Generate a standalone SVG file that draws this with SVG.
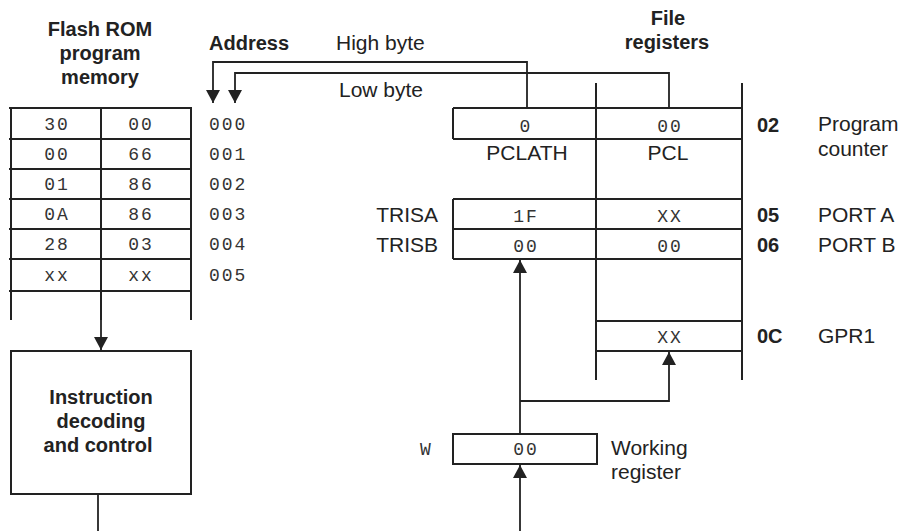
<svg xmlns="http://www.w3.org/2000/svg" width="901" height="531" viewBox="0 0 901 531">
<defs>
<marker id="ah" markerUnits="userSpaceOnUse" markerWidth="14" markerHeight="14" refX="13" refY="7" orient="auto"><path d="M0,0 L13,7 L0,14 z" fill="#222"/></marker>
<style>
.h{font-family:"Liberation Sans",Arial,sans-serif;font-weight:bold;font-size:20px;fill:#222}
.t{font-family:"Liberation Sans",Arial,sans-serif;font-size:21px;fill:#222}
.m{font-family:"Liberation Mono","Courier New",monospace;font-size:18px;letter-spacing:2px;fill:#333}
.mid{text-anchor:middle}
.end{text-anchor:end}
.b{fill:none;stroke:#222;stroke-width:2}
.c{fill:none;stroke:#222;stroke-width:1.8}
</style>
</defs>
<rect width="901" height="531" fill="#fff"/>

<g id="headings">
<text class="h mid" x="100" y="36">Flash ROM</text>
<text class="h mid" x="100" y="60">program</text>
<text class="h mid" x="100" y="84">memory</text>
<text class="h" x="209" y="50">Address</text>
<text class="h mid" x="668" y="25">File</text>
<text class="h mid" x="667" y="49">registers</text>
</g>

<g id="program-memory">
<path class="b" d="M11,108V320 M191,108V320 M101,108V320 M9,108H192 M9,139H192 M9,169H192 M9,199H192 M9,229H192 M9,259H192 M9,291H192"/>
<text class="m mid" x="57" y="130">30</text><text class="m mid" x="141" y="130">00</text><text class="m" x="209" y="130">000</text>
<text class="m mid" x="57" y="160">00</text><text class="m mid" x="141" y="160">66</text><text class="m" x="209" y="160">001</text>
<text class="m mid" x="57" y="190">01</text><text class="m mid" x="141" y="190">86</text><text class="m" x="209" y="190">002</text>
<text class="m mid" x="57" y="220">0A</text><text class="m mid" x="141" y="220">86</text><text class="m" x="209" y="220">003</text>
<text class="m mid" x="57" y="250">28</text><text class="m mid" x="141" y="250">03</text><text class="m" x="209" y="250">004</text>
<text class="m mid" x="57" y="281">xx</text><text class="m mid" x="141" y="281">xx</text><text class="m" x="209" y="281">005</text>
</g>

<g id="instruction-decoding">
<rect class="b" x="11" y="351" width="180" height="143"/>
<text class="h mid" x="101" y="404">Instruction</text>
<text class="h mid" x="101" y="428">decoding</text>
<text class="h mid" x="98" y="452">and control</text>
</g>

<g id="pc">
<path class="b" d="M453,108H742 M453,139H742 M453,108V139"/>
<text class="m mid" x="526" y="132">0</text>
<text class="m mid" x="670" y="132">00</text>
<text class="t mid" x="527" y="160">PCLATH</text>
<text class="t mid" x="668" y="160">PCL</text>
<text class="h" x="757" y="132">02</text>
<text class="t" x="818" y="131">Program</text>
<text class="t" x="818" y="156">counter</text>
</g>

<g id="file-registers">
<path class="b" d="M596,83V380 M742,83V380"/>
</g>

<g id="trisa-porta">
<path class="b" d="M453,199H742 M453,229H742 M453,199V259"/>
<text class="t end" x="438" y="222">TRISA</text>
<text class="m mid" x="526" y="222">1F</text>
<text class="m mid" x="670" y="222">XX</text>
<text class="h" x="757" y="222">05</text>
<text class="t" x="818" y="222">PORT A</text>
</g>

<g id="trisb-portb">
<path class="b" d="M453,259H742"/>
<text class="t end" x="438" y="252">TRISB</text>
<text class="m mid" x="526" y="252">00</text>
<text class="m mid" x="670" y="252">00</text>
<text class="h" x="757" y="252">06</text>
<text class="t" x="818" y="252">PORT B</text>
</g>

<g id="gpr1">
<path class="b" d="M596,321H742 M596,351H742"/>
<text class="m mid" x="670" y="343">XX</text>
<text class="h" x="757" y="343">0C</text>
<text class="t" x="818" y="343">GPR1</text>
</g>

<g id="w-register">
<rect class="b" x="453" y="434" width="144" height="30"/>
<text class="m" x="420" y="455">W</text>
<text class="m mid" x="526" y="455">00</text>
<text class="t" x="611" y="455">Working</text>
<text class="t" x="611" y="479">register</text>
</g>

<g id="connectors">
<path class="c" d="M101,320V350" marker-end="url(#ah)"/>
<path class="c" d="M98,494V531"/>
<path class="c" d="M527,108V62H213V103" marker-end="url(#ah)"/>
<path class="c" d="M669,108V73H235V103" marker-end="url(#ah)"/>
<path class="c" d="M520,434V260" marker-end="url(#ah)"/>
<path class="c" d="M520,401H669V352" marker-end="url(#ah)"/>
<path class="c" d="M520,531V465" marker-end="url(#ah)"/>
<text class="t" x="336" y="50">High byte</text>
<text class="t" x="339" y="97">Low byte</text>
</g>
</svg>
